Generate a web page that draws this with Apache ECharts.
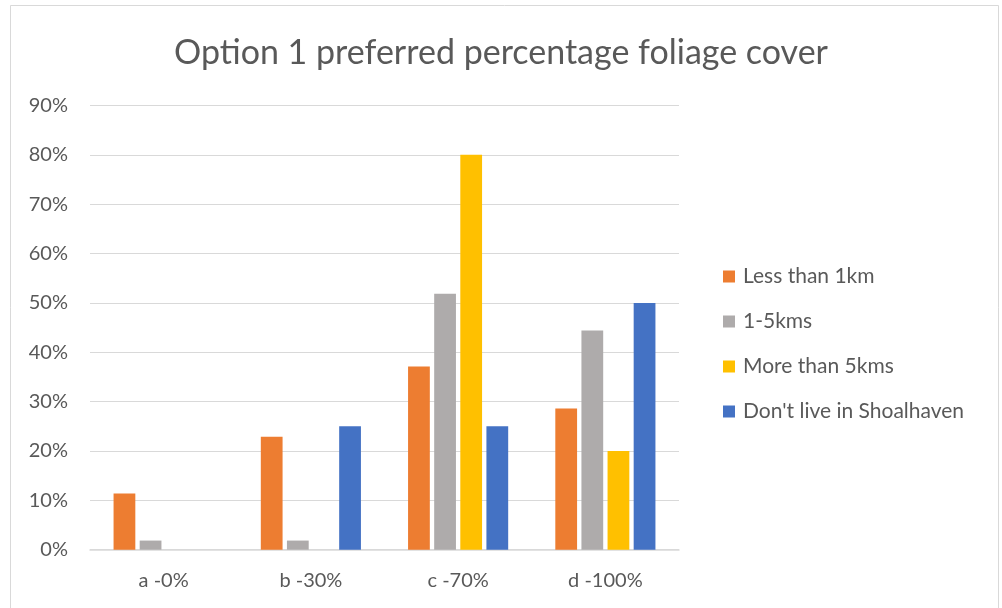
<!DOCTYPE html>
<html>
<head>
<meta charset="utf-8">
<title>Option 1 preferred percentage foliage cover</title>
<script src="https://cdn.jsdelivr.net/npm/echarts@6/dist/echarts.min.js"></script>
<style>
  html, body { margin: 0; padding: 0; background: #fff; }
  #chart { width: 1002px; height: 608px; }
</style>
</head>
<body>
<div id="chart"></div>
<script>
// Preferred foliage cover options
const categories = ['a -0%', 'b -30%', 'c -70%', 'd -100%'];

// Share of respondents (%) in each distance group choosing each option
const lessThan1km = [11.4, 22.9, 37.1, 28.6];
const oneTo5kms = [1.85, 1.85, 51.85, 44.4];
const moreThan5kms = [0, 0, 80, 20];
const notInShoalhaven = [0, 25, 25, 50];

const seriesNames = ['Less than 1km', '1-5kms', 'More than 5kms', "Don't live in Shoalhaven"];
const seriesColors = ['#ED7D31', '#AEABAB', '#FFC000', '#4472C4'];
const seriesValues = [lessThan1km, oneTo5kms, moreThan5kms, notInShoalhaven];

const yTicks = [0, 10, 20, 30, 40, 50, 60, 70, 80, 90];

const FONT = 'Lato, "Open Sans", sans-serif';
const TEXT = '#595959';

const chart = echarts.init(document.getElementById('chart'), null, { renderer: 'canvas' });

chart.setOption({
  backgroundColor: '#fff',
  animation: false,
  title: {
    text: 'Option 1 preferred percentage foliage cover',
    left: 'center',
    top: 28,
    textStyle: { fontFamily: FONT, fontSize: 34, fontWeight: 'normal', color: TEXT, lineHeight: 40 }
  },
  graphic: [{
    type: 'rect',
    shape: { x: 10.5, y: 5.5, width: 988, height: 620 },
    style: { fill: 'none', stroke: '#D9D9D9', lineWidth: 1 },
    silent: true
  }],
  legend: {
    orient: 'vertical',
    left: 723,
    top: 266,
    padding: 0,
    itemWidth: 12,
    itemHeight: 12,
    itemGap: 24,
    icon: 'rect',
    data: seriesNames,
    textStyle: { fontFamily: FONT, fontSize: 21, color: TEXT, lineHeight: 21, padding: [0, 0, 0, 3] }
  },
  grid: { left: 90, right: 323, top: 105.5, bottom: 58.3, containLabel: false },
  xAxis: {
    type: 'category',
    data: categories,
    axisLine: { lineStyle: { color: '#D9D9D9', width: 1.5 } },
    axisTick: { show: false },
    axisLabel: { fontFamily: FONT, fontSize: 20, color: TEXT, margin: 21, lineHeight: 20 }
  },
  yAxis: {
    type: 'value',
    min: yTicks[0],
    max: yTicks[yTicks.length - 1],
    interval: yTicks[1] - yTicks[0],
    axisLine: { show: false },
    axisTick: { show: false },
    splitLine: { lineStyle: { color: '#D9D9D9', width: 1.2 } },
    axisLabel: { fontFamily: FONT, fontSize: 20, color: TEXT, margin: 22, formatter: '{value}%' }
  },
  series: seriesNames.map((name, i) => ({
    name,
    type: 'bar',
    data: seriesValues[i],
    barGap: '20%',
    barCategoryGap: '32%',
    itemStyle: { color: seriesColors[i] }
  }))
});
</script>
</body>
</html>
